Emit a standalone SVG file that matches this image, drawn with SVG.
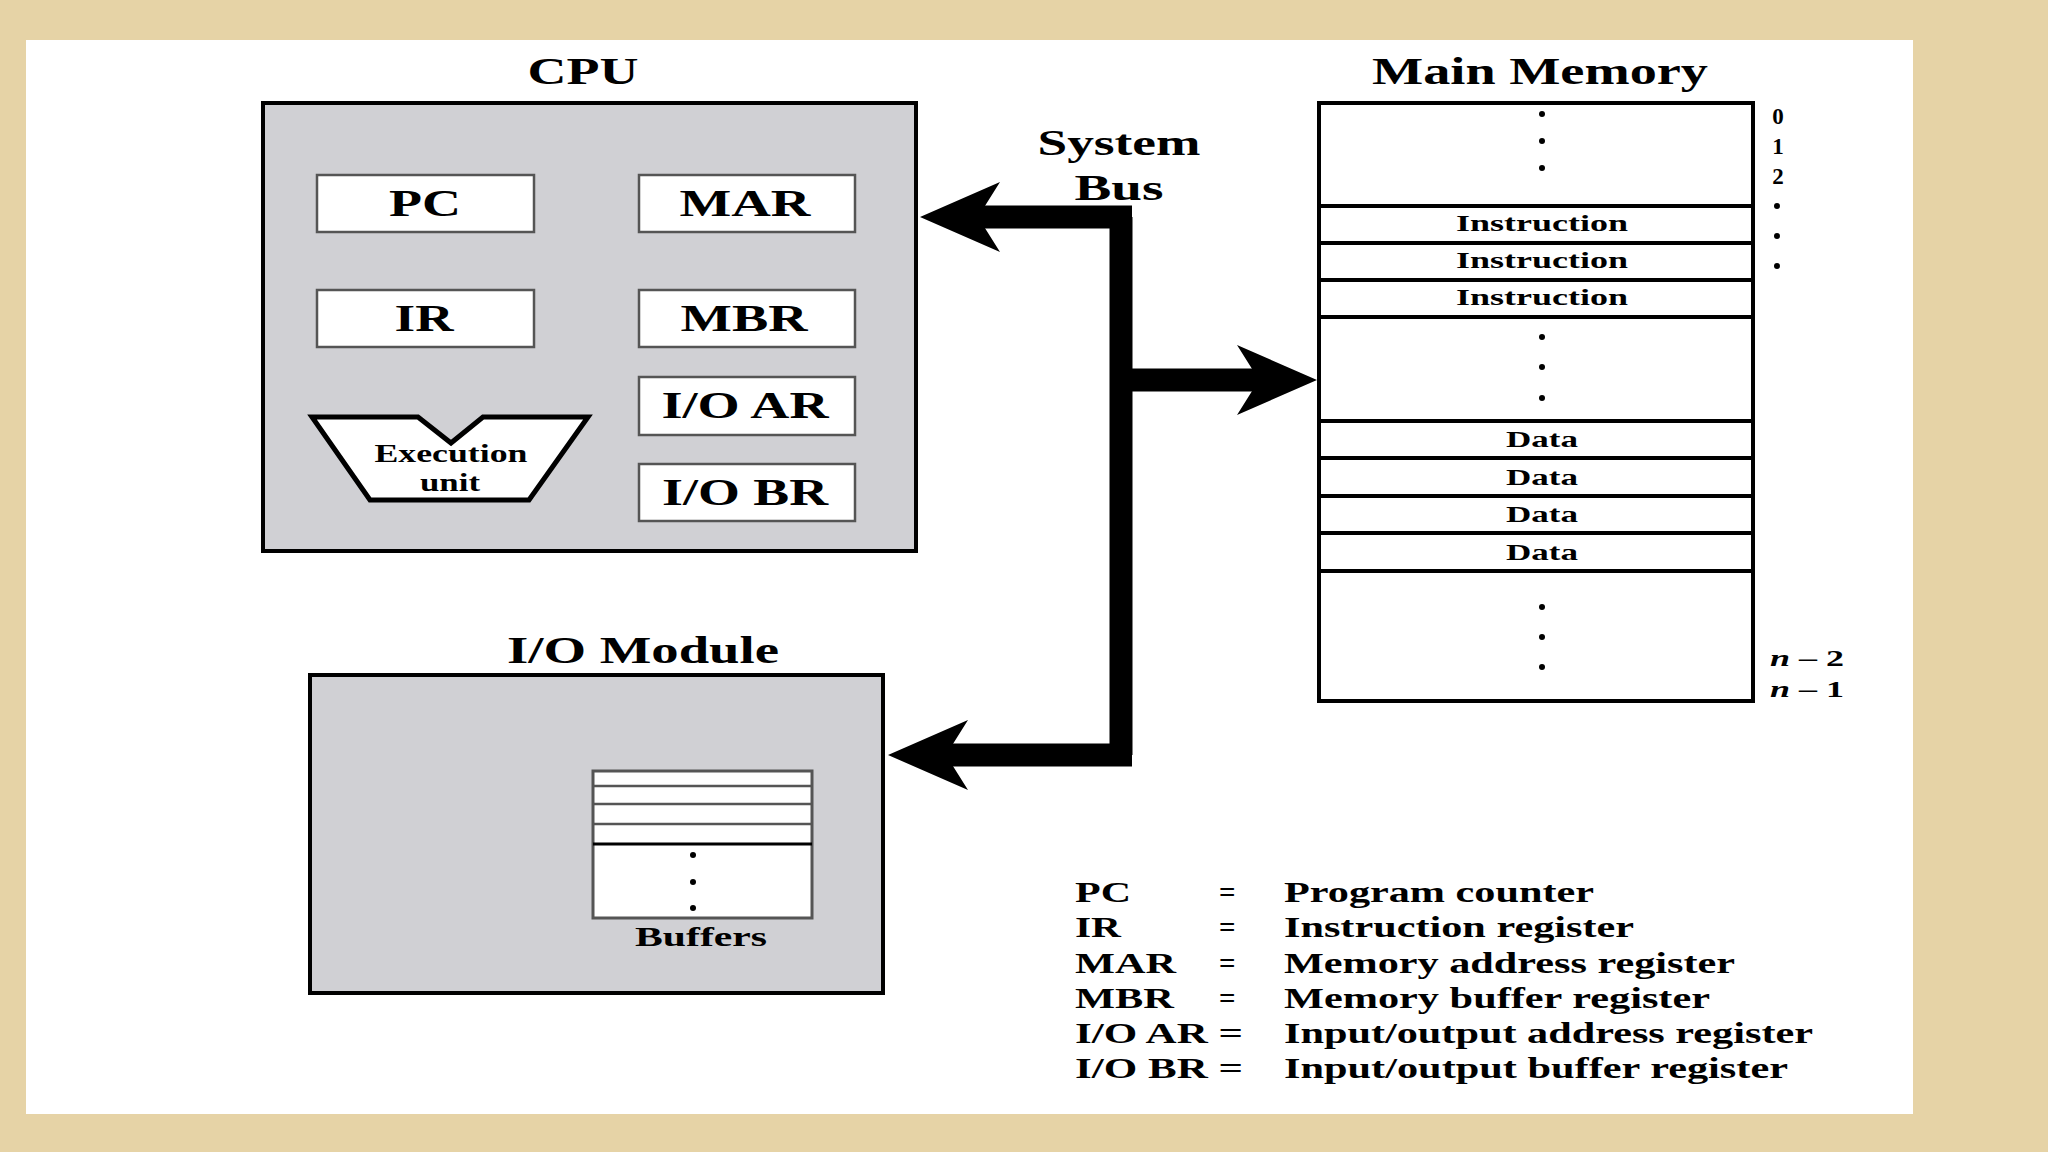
<svg xmlns="http://www.w3.org/2000/svg" width="2048" height="1152" viewBox="0 0 2048 1152">
<style>
text{font-family:"Liberation Serif","Times New Roman",serif;font-weight:bold;fill:#000}
.t{font-size:38px;text-anchor:middle}
.r{font-size:37px;text-anchor:middle}
.m{font-size:23px;text-anchor:middle}
.l{font-size:29px}
.box{fill:#fff;stroke:#555;stroke-width:2.5}
.gray{fill:#d0d0d4;stroke:#000;stroke-width:4}
.mem{fill:#fff;stroke:#000;stroke-width:4}
.bus{fill:none;stroke:#000;stroke-width:23}
</style>
<defs>
<marker id="ah" viewBox="0 0 80 70" refX="30" refY="35" markerUnits="userSpaceOnUse" markerWidth="80" markerHeight="70" orient="auto">
<path d="M0,0 L80,35 L0,70 L22,35 Z" fill="#000"/>
</marker>
</defs>
<rect width="2048" height="1152" fill="#e6d3a6"/>
<rect x="26" y="40" width="1887" height="1074" fill="#fff"/>
<g id="cpu">
<text class="t" x="583" y="84" textLength="111" lengthAdjust="spacingAndGlyphs">CPU</text>
<rect class="gray" x="263" y="103" width="653" height="448"/>
</g>
<g id="pc"><rect class="box" x="317" y="175" width="217" height="57"/><text class="r" x="425" y="216" textLength="72" lengthAdjust="spacingAndGlyphs">PC</text></g>
<g id="mar"><rect class="box" x="639" y="175" width="216" height="57"/><text class="r" x="745" y="216" textLength="131" lengthAdjust="spacingAndGlyphs">MAR</text></g>
<g id="ir"><rect class="box" x="317" y="290" width="217" height="57"/><text class="r" x="424" y="331" textLength="59" lengthAdjust="spacingAndGlyphs">IR</text></g>
<g id="mbr"><rect class="box" x="639" y="290" width="216" height="57"/><text class="r" x="744" y="331" textLength="127" lengthAdjust="spacingAndGlyphs">MBR</text></g>
<g id="ioar"><rect class="box" x="639" y="377" width="216" height="58"/><text class="r" x="745" y="418" textLength="167" lengthAdjust="spacingAndGlyphs">I/O AR</text></g>
<g id="iobr"><rect class="box" x="639" y="464" width="216" height="57"/><text class="r" x="745" y="505" textLength="166" lengthAdjust="spacingAndGlyphs">I/O BR</text></g>
<g id="exec">
<path d="M312,417 L418,417 L451,443 L483,417 L588,417 L529,500 L370,500 Z" fill="#fff" stroke="#000" stroke-width="5"/>
<text class="m" x="451" y="462" style="font-size:25px" textLength="153" lengthAdjust="spacingAndGlyphs">Execution</text>
<text class="m" x="450" y="491" style="font-size:25px" textLength="60" lengthAdjust="spacingAndGlyphs">unit</text>
</g>
<g id="memory">
<text class="t" x="1540" y="84" textLength="336" lengthAdjust="spacingAndGlyphs">Main Memory</text>
<rect class="mem" x="1319" y="103" width="434" height="598"/>
<g stroke="#000" stroke-width="4">
<line x1="1319" y1="206" x2="1753" y2="206"/><line x1="1319" y1="243" x2="1753" y2="243"/>
<line x1="1319" y1="280" x2="1753" y2="280"/><line x1="1319" y1="317" x2="1753" y2="317"/>
<line x1="1319" y1="421" x2="1753" y2="421"/><line x1="1319" y1="458" x2="1753" y2="458"/>
<line x1="1319" y1="496" x2="1753" y2="496"/><line x1="1319" y1="533" x2="1753" y2="533"/>
<line x1="1319" y1="571" x2="1753" y2="571"/>
</g>
<text class="m" x="1542" y="231" textLength="172" lengthAdjust="spacingAndGlyphs">Instruction</text>
<text class="m" x="1542" y="268" textLength="172" lengthAdjust="spacingAndGlyphs">Instruction</text>
<text class="m" x="1542" y="305" textLength="172" lengthAdjust="spacingAndGlyphs">Instruction</text>
<text class="m" x="1542" y="447" textLength="72" lengthAdjust="spacingAndGlyphs">Data</text>
<text class="m" x="1542" y="485" textLength="72" lengthAdjust="spacingAndGlyphs">Data</text>
<text class="m" x="1542" y="522" textLength="72" lengthAdjust="spacingAndGlyphs">Data</text>
<text class="m" x="1542" y="560" textLength="72" lengthAdjust="spacingAndGlyphs">Data</text>
<g fill="#000">
<circle cx="1542" cy="114" r="3"/><circle cx="1542" cy="141" r="3"/><circle cx="1542" cy="168" r="3"/>
<circle cx="1542" cy="337" r="3"/><circle cx="1542" cy="367" r="3"/><circle cx="1542" cy="398" r="3"/>
<circle cx="1542" cy="607" r="3"/><circle cx="1542" cy="637" r="3"/><circle cx="1542" cy="667" r="3"/>
<circle cx="1777" cy="206" r="3"/><circle cx="1777" cy="236" r="3"/><circle cx="1777" cy="266" r="3"/>
</g>
<text class="m" x="1778" y="124">0</text>
<text class="m" x="1778" y="154">1</text>
<text class="m" x="1778" y="184">2</text>
<text class="m" x="1770" y="666" style="text-anchor:start" textLength="74" lengthAdjust="spacingAndGlyphs"><tspan font-style="italic">n</tspan> – 2</text>
<text class="m" x="1770" y="697" style="text-anchor:start" textLength="74" lengthAdjust="spacingAndGlyphs"><tspan font-style="italic">n</tspan> – 1</text>
</g>
<g id="io">
<text class="t" x="643" y="663" textLength="272" lengthAdjust="spacingAndGlyphs">I/O Module</text>
<rect class="gray" x="310" y="675" width="573" height="318"/>
<rect x="593" y="771" width="219" height="147" fill="#fff" stroke="#555" stroke-width="3"/>
<g stroke="#555" stroke-width="2.5">
<line x1="593" y1="786" x2="812" y2="786"/><line x1="593" y1="804" x2="812" y2="804"/>
<line x1="593" y1="824" x2="812" y2="824"/></g>
<line x1="593" y1="844" x2="812" y2="844" stroke="#000" stroke-width="3"/>
<g fill="#000"><circle cx="693" cy="855" r="3"/><circle cx="693" cy="882" r="3"/><circle cx="693" cy="908" r="3"/></g>
<text class="m" x="701" y="946" style="font-size:27px" textLength="132" lengthAdjust="spacingAndGlyphs">Buffers</text>
</g>
<g id="bus">
<text class="t" x="1119" y="155" style="font-size:36px" textLength="163" lengthAdjust="spacingAndGlyphs">System</text>
<text class="t" x="1119" y="200" style="font-size:36px" textLength="89" lengthAdjust="spacingAndGlyphs">Bus</text>
<path class="bus" d="M1121,217 L1121,755"/>
<path class="bus" d="M1132,217 L970,217" marker-end="url(#ah)"/>
<path class="bus" d="M1110,380 L1267,380" marker-end="url(#ah)"/>
<path class="bus" d="M1132,755 L938,755" marker-end="url(#ah)"/>
</g>
<g id="legend" class="l">
<text x="1075" y="902" textLength="56" lengthAdjust="spacingAndGlyphs">PC</text><text x="1219" y="902">=</text><text x="1284" y="902" textLength="310" lengthAdjust="spacingAndGlyphs">Program counter</text>
<text x="1075" y="937" textLength="46" lengthAdjust="spacingAndGlyphs">IR</text><text x="1219" y="937">=</text><text x="1284" y="937" textLength="350" lengthAdjust="spacingAndGlyphs">Instruction register</text>
<text x="1075" y="973" textLength="101" lengthAdjust="spacingAndGlyphs">MAR</text><text x="1219" y="973">=</text><text x="1284" y="973" textLength="451" lengthAdjust="spacingAndGlyphs">Memory address register</text>
<text x="1075" y="1008" textLength="99" lengthAdjust="spacingAndGlyphs">MBR</text><text x="1219" y="1008">=</text><text x="1284" y="1008" textLength="426" lengthAdjust="spacingAndGlyphs">Memory buffer register</text>
<text x="1075" y="1043" textLength="168" lengthAdjust="spacingAndGlyphs">I/O AR =</text><text x="1284" y="1043" textLength="529" lengthAdjust="spacingAndGlyphs">Input/output address register</text>
<text x="1075" y="1078" textLength="168" lengthAdjust="spacingAndGlyphs">I/O BR =</text><text x="1284" y="1078" textLength="504" lengthAdjust="spacingAndGlyphs">Input/output buffer register</text>
</g>
</svg>
